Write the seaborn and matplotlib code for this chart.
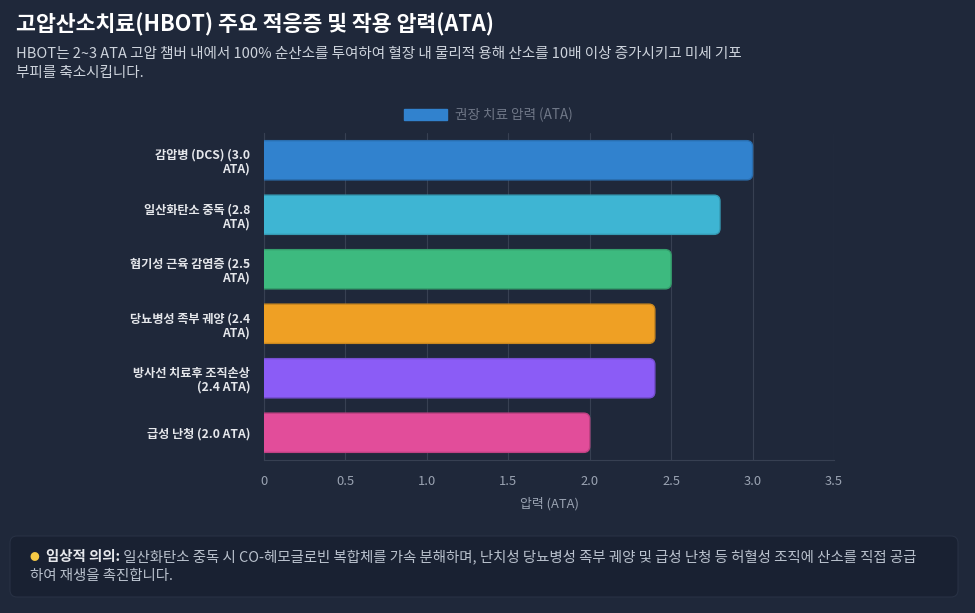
import matplotlib
matplotlib.use("Agg")
import matplotlib.pyplot as plt
import seaborn as sns
import numpy as np
import pandas as pd
from matplotlib.patches import FancyBboxPatch, Patch
import matplotlib.colors as mcolors

# ---- data ----
categories = [
    "감압병 (DCS) (3.0\nATA)",
    "일산화탄소 중독 (2.8\nATA)",
    "혐기성 근육 감염증 (2.5\nATA)",
    "당뇨병성 족부 궤양 (2.4\nATA)",
    "방사선 치료후 조직손상\n(2.4 ATA)",
    "급성 난청 (2.0 ATA)",
]
pressures = [3.0, 2.8, 2.5, 2.4, 2.4, 2.0]
bar_colors = ["#3182ce", "#3eb5d3", "#3dba7f", "#efa024", "#8b5cf6", "#e24d9a"]
x_ticks = [0, 0.5, 1.0, 1.5, 2.0, 2.5, 3.0, 3.5]
x_tick_labels = ["0", "0.5", "1.0", "1.5", "2.0", "2.5", "3.0", "3.5"]
legend_label = "권장 치료 압력 (ATA)"
x_label = "압력 (ATA)"
title = "고압산소치료(HBOT) 주요 적응증 및 작용 압력(ATA)"
subtitle_line1 = "HBOT는 2~3 ATA 고압 챔버 내에서 100% 순산소를 투여하여 혈장 내 물리적 용해 산소를 10배 이상 증가시키고 미세 기포"
subtitle_line2 = "부피를 축소시킵니다."
note_bold = "임상적 의의:"
note_line1 = " 일산화탄소 중독 시 CO-헤모글로빈 복합체를 가속 분해하며, 난치성 당뇨병성 족부 궤양 및 급성 난청 등 허혈성 조직에 산소를 직접 공급"
note_line2 = "하여 재생을 촉진합니다."

BG = "#1f283a"
GRID = "#374052"

sns.set_theme(style="dark")
plt.rcParams['font.family'] = ['Noto Sans CJK KR', 'DejaVu Sans']
plt.rcParams['axes.unicode_minus'] = False

W, H = 975, 613
fig = plt.figure(figsize=(W / 100, H / 100), dpi=100, facecolor=BG)

def fx(px):
    return px / W

def fy(py):
    return 1 - py / H

ax = fig.add_axes([fx(264), fy(460), fx(834) - fx(264), fy(133) - fy(460)])
ax.set_facecolor(BG)

df = pd.DataFrame({"cat": categories, "val": pressures})
sns.barplot(data=df, x="val", y="cat", hue="cat", palette=bar_colors, orient="h",
            width=0.72, legend=False, ax=ax, saturation=1)

ax.set_xlim(0, 3.5)

# rounded right ends: replace rectangles with rounded boxes
px_per_x = (834 - 264) / 3.5
px_per_y = (460 - 133) / 6.0
r_px = 6
rx = r_px / px_per_x
ry = r_px / px_per_y
for p, c in zip(list(ax.patches), bar_colors):
    x0, y0 = p.get_x(), p.get_y()
    w, h = p.get_width(), p.get_height()
    p.set_visible(False)
    edge = mcolors.to_rgb(c)
    edge = tuple(v * 0.85 for v in edge)
    fb = FancyBboxPatch((x0 - 0.1, y0), w + 0.1, h,
                        boxstyle=f"round,pad=0,rounding_size={rx}",
                        mutation_aspect=ry / rx,
                        facecolor=c, edgecolor=edge, linewidth=1.0, zorder=3)
    ax.add_patch(fb)

ax.set_xticks(x_ticks)
ax.set_xticklabels(x_tick_labels, color="#9aa3b2", fontsize=9.3)
ax.tick_params(axis="x", length=6, color=GRID, width=0.8, pad=5)
ax.tick_params(axis="y", length=0, pad=10)
for lbl in ax.get_yticklabels():
    lbl.set_fontweight("bold")
    lbl.set_color("#e5e7eb")
    lbl.set_fontsize(8.75)
    lbl.set_linespacing(1.12)
ax.set_ylabel("")
ax.set_xlabel(x_label, color="#9aa3b2", fontsize=9.3, labelpad=6)
ax.grid(axis="x", color=GRID, linewidth=0.8)
ax.grid(axis="y", visible=False)
ax.set_axisbelow(True)
for s in ["top", "right"]:
    ax.spines[s].set_visible(False)
for s in ["left", "bottom"]:
    ax.spines[s].set_color(GRID)
    ax.spines[s].set_linewidth(0.8)

# legend
handle = Patch(facecolor=bar_colors[0], edgecolor=bar_colors[0])
leg = fig.legend([handle], [legend_label], loc="center", bbox_to_anchor=(fx(488), fy(115)),
                 frameon=False, handlelength=3.2, handleheight=0.9, handletextpad=0.55,
                 prop={"size": 9.8})
for t in leg.get_texts():
    t.set_color("#6f7787")

# title and subtitle
fig.text(fx(16), fy(25), title, color="white", fontsize=15.6, fontweight="bold", va="center", ha="left")
fig.text(fx(16), fy(54), subtitle_line1, color="#cdd3dc", fontsize=10.5, va="center", ha="left")
fig.text(fx(16), fy(73), subtitle_line2, color="#cdd3dc", fontsize=10.5, va="center", ha="left")

# note box
box = FancyBboxPatch((0.10, 0.16), 9.48, 0.61, boxstyle="round,pad=0,rounding_size=0.07",
                     transform=fig.dpi_scale_trans, facecolor="#192132", edgecolor="#283144",
                     linewidth=0.8, zorder=0)
fig.patches.append(box)

fig.text(fx(29), fy(557), "●", color="#f6c945", fontsize=7, va="center", ha="left")
tb = fig.text(fx(46), fy(557), note_bold, color="#e5e7eb", fontsize=10.4, fontweight="bold",
              va="center", ha="left")
fig.canvas.draw()
bb = tb.get_window_extent()
fig.text(bb.x1 / W, fy(557), note_line1, color="#b9c1cd", fontsize=10.4, va="center", ha="left")
fig.text(fx(30), fy(576), note_line2, color="#b9c1cd", fontsize=10.4, va="center", ha="left")

fig.savefig("out.png", dpi=100, facecolor=BG)
